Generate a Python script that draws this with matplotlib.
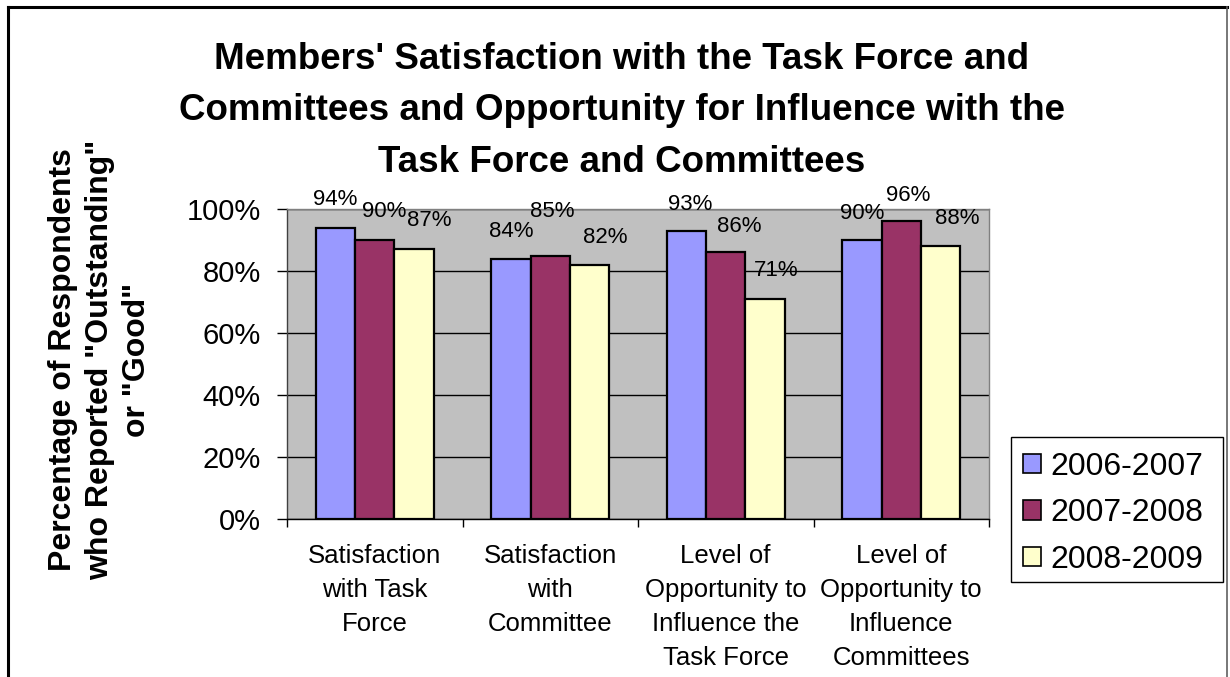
import matplotlib.pyplot as plt
from matplotlib.lines import Line2D
from matplotlib.patches import Patch, Rectangle
import numpy as np

plt.rcParams['font.family'] = ['Liberation Sans', 'DejaVu Sans']

categories = ["Satisfaction\nwith Task\nForce",
              "Satisfaction\nwith\nCommittee",
              "Level of\nOpportunity to\nInfluence the\nTask Force",
              "Level of\nOpportunity to\nInfluence\nCommittees"]
years = ["2006-2007", "2007-2008", "2008-2009"]
vals_0607 = [94, 84, 93, 90]
vals_0708 = [90, 85, 86, 96]
vals_0809 = [87, 82, 71, 88]
colors = ["#9999FF", "#993366", "#FFFFCC"]

# hand-placed value labels: pixel shift from bar centre / above bar top
label_dx = [[0, 0, 4, 0], [9, 2, 13, 7], [15, 16, 11, 17]]
label_dy = [[28, 27, 26, 27], [29, 44, 26, 26], [29, 27, 28, 28]]

title = ("Members' Satisfaction with the Task Force and\n"
         "Committees and Opportunity for Influence with the\n"
         "Task Force and Committees")
ylabel = 'Percentage of Respondents\nwho Reported "Outstanding"\nor "Good"'

W, H = 1230, 677
fig = plt.figure(figsize=(W / 100, H / 100), dpi=100)
ax = fig.add_axes([287 / W, 1 - 519 / H, (989 - 287) / W, (519 - 209) / H])
ax.set_facecolor("#C0C0C0")

x = np.arange(len(categories))
bw = 0.225
for j, (vals, c, lab) in enumerate(zip([vals_0607, vals_0708, vals_0809], colors, years)):
    xs = x + (j - 1) * bw
    ax.bar(xs, vals, width=bw, color=c, edgecolor="black", linewidth=1.6, label=lab, zorder=3)
    for i, (xi, v) in enumerate(zip(xs, vals)):
        ax.annotate(f"{v}%", (xi, v), xytext=(label_dx[j][i], label_dy[j][i]),
                    textcoords="offset pixels", ha="center", va="center",
                    fontsize=16, zorder=4)

ax.set_xlim(-0.5, len(categories) - 0.5)
ax.set_ylim(0, 100)
ax.set_yticks(range(0, 101, 20))
ax.set_yticklabels([f"{t}%" for t in range(0, 101, 20)], fontsize=21)
ax.tick_params(axis="y", direction="out", length=7, width=1, pad=12)
ax.yaxis.grid(True, color="black", linewidth=1)
ax.set_axisbelow(True)

ax.set_xticks(x)
ax.set_xticklabels(categories, fontsize=18.5, linespacing=1.52)
ax.tick_params(axis="x", which="major", length=0, pad=18)
ax.set_xticks(np.arange(-0.5, len(categories)), minor=True)
ax.tick_params(axis="x", which="minor", direction="out", length=6, width=1)

for s in ["top", "right"]:
    ax.spines[s].set_color("#808080")
ax.spines["left"].set_color("#404040")
ax.spines["bottom"].set_color("black")
for s in ax.spines.values():
    s.set_linewidth(1)

fig.text(622 / W, 1 - 111 / H, title, ha="center", va="center",
         fontsize=26.5, fontweight="bold", linespacing=1.62)
fig.text(100 / W, 1 - 360 / H, ylabel, rotation=90, ha="center", va="center",
         multialignment="center", fontsize=23, fontweight="bold", linespacing=1.31)

# legend box drawn separately so the padding can be uneven
fig.add_artist(Rectangle((1011 / W, 1 - 582 / H), (1223 - 1011) / W, (582 - 437) / H,
                         transform=fig.transFigure, facecolor="white",
                         edgecolor="black", linewidth=1))
handles = [Patch(facecolor=c, edgecolor="black", linewidth=1.2) for c in colors]
leg = fig.legend(handles, years, loc="upper left", bbox_to_anchor=(1023 / W, 1 - 452 / H),
                 fontsize=23, frameon=False, handlelength=0.56,
                 handleheight=0.56, handletextpad=0.31, labelspacing=0.51,
                 borderpad=0, borderaxespad=0)

# chart frame
fig.add_artist(Line2D([8 / W, 8 / W], [0, 1 - 7 / H], color="black", linewidth=2.2))
fig.add_artist(Line2D([8 / W, 1227 / W], [1 - 7 / H, 1 - 7 / H], color="black", linewidth=2.2))
fig.add_artist(Line2D([1227 / W, 1227 / W], [0, 1 - 7 / H], color="#606060", linewidth=1.2))

fig.savefig("out.png", dpi=100)
